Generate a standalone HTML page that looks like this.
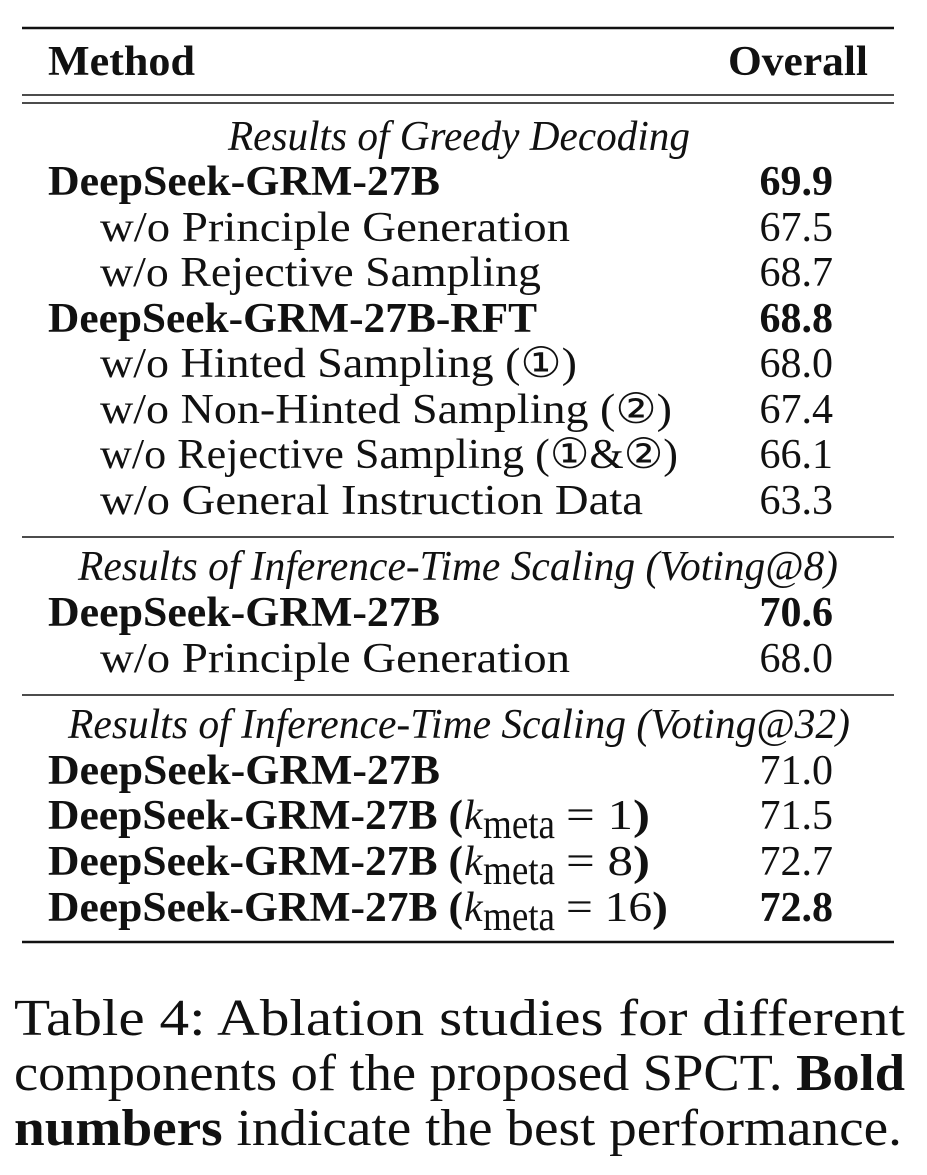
<!DOCTYPE html>
<html><head><meta charset="utf-8"><style>
html,body{margin:0;padding:0;background:#fff;}
svg{display:block;}
text{font-family:"Liberation Serif","DejaVu Serif",serif;fill:#111;}
.b{font-weight:bold;}
.i{font-style:italic;}
</style></head><body>
<svg width="927" height="1175" viewBox="0 0 927 1175" xmlns="http://www.w3.org/2000/svg">
<g stroke="#111">
<line x1="22" y1="28" x2="894" y2="28" stroke-width="2.5"/>
<line x1="22" y1="95" x2="894" y2="95" stroke-width="1.6"/>
<line x1="22" y1="103" x2="894" y2="103" stroke-width="1.6"/>
<line x1="22" y1="537" x2="894" y2="537" stroke-width="1.6"/>
<line x1="22" y1="695" x2="894" y2="695" stroke-width="1.6"/>
<line x1="22" y1="942" x2="894" y2="942" stroke-width="2.5"/>
</g>
<g font-size="42">
<text class="b" x="48" y="75" textLength="147" lengthAdjust="spacingAndGlyphs">Method</text>
<text class="b" x="728" y="75" textLength="140" lengthAdjust="spacingAndGlyphs">Overall</text>

<text class="i" x="228" y="150" textLength="462" lengthAdjust="spacingAndGlyphs">Results of Greedy Decoding</text>
<text class="b" x="48" y="195" textLength="392" lengthAdjust="spacingAndGlyphs">DeepSeek-GRM-27B</text>
<text x="100" y="241" textLength="470" lengthAdjust="spacingAndGlyphs">w/o Principle Generation</text>
<text x="100" y="286" textLength="441" lengthAdjust="spacingAndGlyphs">w/o Rejective Sampling</text>
<text class="b" x="48" y="332" textLength="489" lengthAdjust="spacingAndGlyphs">DeepSeek-GRM-27B-RFT</text>
<text x="100" y="377" textLength="477" lengthAdjust="spacingAndGlyphs">w/o Hinted Sampling (①)</text>
<text x="100" y="423" textLength="572" lengthAdjust="spacingAndGlyphs">w/o Non-Hinted Sampling (②)</text>
<text x="100" y="468" textLength="578" lengthAdjust="spacingAndGlyphs">w/o Rejective Sampling (①&amp;②)</text>
<text x="100" y="514" textLength="543" lengthAdjust="spacingAndGlyphs">w/o General Instruction Data</text>

<text class="i" x="78" y="580" textLength="760" lengthAdjust="spacingAndGlyphs">Results of Inference-Time Scaling (Voting@8)</text>
<text class="b" x="48" y="626" textLength="392" lengthAdjust="spacingAndGlyphs">DeepSeek-GRM-27B</text>
<text x="100" y="672" textLength="470" lengthAdjust="spacingAndGlyphs">w/o Principle Generation</text>

<text class="i" x="68" y="738" textLength="782" lengthAdjust="spacingAndGlyphs">Results of Inference-Time Scaling (Voting@32)</text>
<text class="b" x="48" y="784" textLength="392" lengthAdjust="spacingAndGlyphs">DeepSeek-GRM-27B</text>
<g>
<text class="b" x="48" y="829" textLength="415" lengthAdjust="spacingAndGlyphs">DeepSeek-GRM-27B (</text>
<text class="i" x="464" y="829">k</text>
<text x="483" y="838" textLength="72" lengthAdjust="spacingAndGlyphs">meta</text>
<text x="566" y="829" textLength="84" lengthAdjust="spacingAndGlyphs">= 1<tspan class="b">)</tspan></text>
</g>
<g>
<text class="b" x="48" y="875" textLength="415" lengthAdjust="spacingAndGlyphs">DeepSeek-GRM-27B (</text>
<text class="i" x="464" y="875">k</text>
<text x="483" y="884" textLength="72" lengthAdjust="spacingAndGlyphs">meta</text>
<text x="566" y="875" textLength="84" lengthAdjust="spacingAndGlyphs">= 8<tspan class="b">)</tspan></text>
</g>
<g>
<text class="b" x="48" y="921" textLength="415" lengthAdjust="spacingAndGlyphs">DeepSeek-GRM-27B (</text>
<text class="i" x="464" y="921">k</text>
<text x="483" y="930" textLength="72" lengthAdjust="spacingAndGlyphs">meta</text>
<text x="566" y="921" textLength="102" lengthAdjust="spacingAndGlyphs">= 16<tspan class="b">)</tspan></text>
</g>

<g text-anchor="end">
<text class="b" x="833" y="195">69.9</text>
<text x="833" y="241">67.5</text>
<text x="833" y="286">68.7</text>
<text class="b" x="833" y="332">68.8</text>
<text x="833" y="377">68.0</text>
<text x="833" y="423">67.4</text>
<text x="833" y="468">66.1</text>
<text x="833" y="514">63.3</text>
<text class="b" x="833" y="626">70.6</text>
<text x="833" y="672">68.0</text>
<text x="833" y="784">71.0</text>
<text x="833" y="829">71.5</text>
<text x="833" y="875">72.7</text>
<text class="b" x="833" y="921">72.8</text>
</g>
</g>
<g font-size="52">
<text x="14" y="1035" textLength="891" lengthAdjust="spacingAndGlyphs">Table 4:  Ablation studies for different</text>
<text x="14" y="1090" textLength="891" lengthAdjust="spacingAndGlyphs">components of the proposed SPCT. <tspan class="b">Bold</tspan></text>
<text x="14" y="1145" textLength="888" lengthAdjust="spacingAndGlyphs"><tspan class="b">numbers</tspan> indicate the best performance.</text>
</g>
</svg>
</body></html>
